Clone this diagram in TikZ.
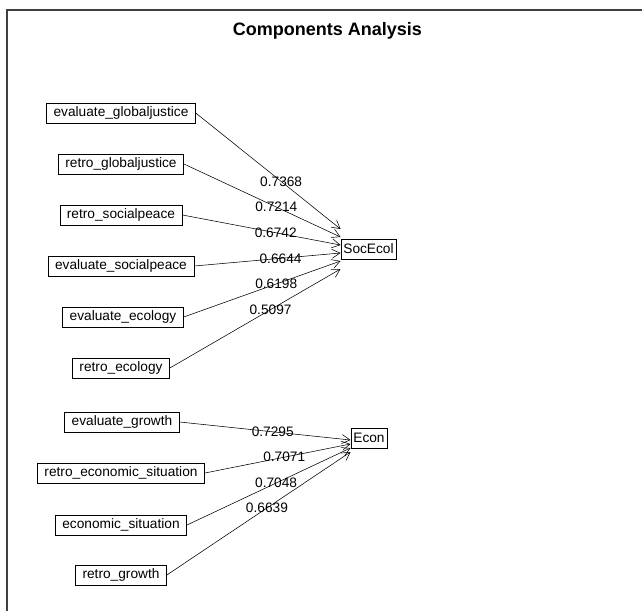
\documentclass[tikz,border=0pt]{standalone}
\usepackage{fontspec}
\setmainfont{Liberation Sans}
\usetikzlibrary{arrows.meta}

\begin{document}
\begin{tikzpicture}[x=1pt, y=-1pt,
    var/.style={draw, line width=0.7pt, minimum height=20pt, inner xsep=7pt, inner ysep=0pt, font=\fontsize{13.7}{14}\selectfont},
    comp/.style={draw, line width=0.7pt, minimum height=20pt, inner xsep=2.5pt, inner ysep=0pt, font=\fontsize{13.7}{14}\selectfont},
    load/.style={-{Straight Barb[length=8pt,width=9pt]}, line width=0.55pt},
    wt/.style={inner sep=0pt, font=\fontsize{13.7}{14}\selectfont}]

    % Frame
    \useasboundingbox (0,0) rectangle (642,611);
    \draw[line width=1.2pt, black!75] (7,611) -- (7,10) -- (642,10);

    % Title
    \node[font=\bfseries\fontsize{18}{20}\selectfont] (title) at (327.5,31) {Components Analysis};

    % Variables (first component)
    \node[var] (evalglobal) at (121,113) {evaluate\_globaljustice};
    \node[var] (retroglobal) at (121,164) {retro\_globaljustice};
    \node[var] (retropeace) at (121,215) {retro\_socialpeace};
    \node[var] (evalpeace) at (121,266) {evaluate\_socialpeace};
    \node[var] (evalecol) at (123,317) {evaluate\_ecology};
    \node[var] (retroecol) at (121,368) {retro\_ecology};

    % Variables (second component)
    \node[var] (evalgrowth) at (122,422) {evaluate\_growth};
    \node[var] (retroecon) at (121,473) {retro\_economic\_situation};
    \node[var] (econsit) at (121,525) {economic\_situation};
    \node[var] (retrogrowth) at (121,575) {retro\_growth};

    % Components
    \node[comp] (socecol) at (368.5,249) {SocEcol};
    \node[comp] (econ) at (369,438) {Econ};

    % Loadings
    \draw[load] (evalglobal.east) -- ([yshift=20pt]socecol.west) node[wt, pos=0.59] {0.7368};
    \draw[load] (retroglobal.east) -- ([yshift=12pt]socecol.west) node[wt, pos=0.59] {0.7214};
    \draw[load] (retropeace.east) -- ([yshift=4pt]socecol.west) node[wt, pos=0.59] {0.6742};
    \draw[load] (evalpeace.east) -- ([yshift=-4pt]socecol.west) node[wt, pos=0.59] {0.6644};
    \draw[load] (evalecol.east) -- ([yshift=-12pt]socecol.west) node[wt, pos=0.59] {0.6198};
    \draw[load] (retroecol.east) -- ([yshift=-20pt]socecol.west) node[wt, pos=0.59] {0.5097};

    \draw[load] (evalgrowth.east) -- ([yshift=-2pt]econ.west) node[wt, pos=0.545] {0.7295};
    \draw[load] (retroecon.east) -- ([yshift=-6pt]econ.west) node[wt, pos=0.545] {0.7071};
    \draw[load] (econsit.east) -- ([yshift=-10pt]econ.west) node[wt, pos=0.545] {0.7048};
    \draw[load] (retrogrowth.east) -- ([yshift=-14pt]econ.west) node[wt, pos=0.545] {0.6639};
\end{tikzpicture}
\end{document}
